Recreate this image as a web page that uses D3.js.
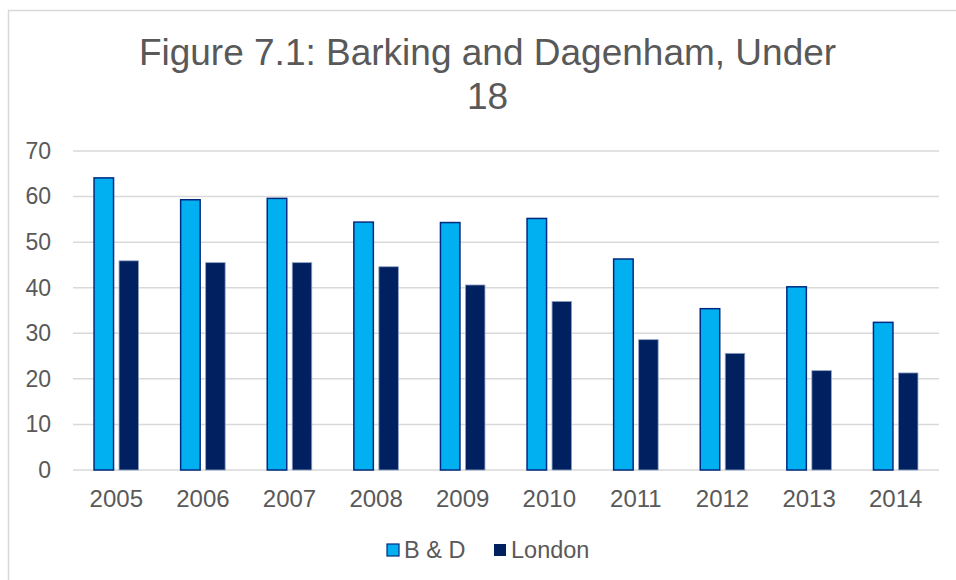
<!DOCTYPE html>
<html>
<head>
<meta charset="utf-8">
<script src="https://cdn.jsdelivr.net/npm/d3@7"></script>
<style>
  body { margin: 0; background: #fff; }
  text { font-family: "Liberation Sans", Arial, sans-serif; fill: #595959; }
</style>
</head>
<body>
<script>
// Figure 7.1 - grouped bar chart

var years = ['2005', '2006', '2007', '2008', '2009', '2010', '2011', '2012', '2013', '2014'];
var seriesNames = ['B & D', 'London'];
var bdValues = [64.1, 59.3, 59.6, 54.4, 54.3, 55.2, 46.3, 35.4, 40.2, 32.4];
var londonValues = [45.9, 45.5, 45.5, 44.6, 40.6, 37.0, 28.6, 25.6, 21.8, 21.3];
var yTicks = [0, 10, 20, 30, 40, 50, 60, 70];

var svgWidth = 956;
var svgHeight = 580;

var margin = { top: 151, right: 17, bottom: 110, left: 73 };
var chartWidth = svgWidth - margin.left - margin.right;
var chartHeight = svgHeight - margin.top - margin.bottom;

var colors = { 'B & D': '#00B0F0', 'London': '#002060' };
var strokes = { 'B & D': '#002A80', 'London': '#8FA3C4' };

var svg = d3.select('body').append('svg')
  .attr('width', svgWidth)
  .attr('height', svgHeight);

// outer chart frame
svg.append('rect')
  .attr('x', 8.5)
  .attr('y', 10.5)
  .attr('width', 980)
  .attr('height', 620)
  .attr('fill', 'none')
  .attr('stroke', '#D9D9D9')
  .attr('stroke-width', 1.5);

// title
var title = svg.append('text')
  .attr('text-anchor', 'middle')
  .attr('font-size', 37);
title.append('tspan').attr('x', 487.5).attr('y', 65).text('Figure 7.1: Barking and Dagenham, Under');
title.append('tspan').attr('x', 487.5).attr('y', 109).text('18');

var chart = svg.append('g')
  .attr('transform', `translate(${margin.left}, ${margin.top})`);

var yScale = d3.scaleLinear()
  .domain([0, 70])
  .range([chartHeight, 0]);

var x0 = d3.scaleBand()
  .domain(years)
  .range([0, chartWidth])
  .paddingInner(0.486)
  .paddingOuter(0.243);

var x1 = d3.scaleBand()
  .domain(seriesNames)
  .range([0, x0.bandwidth()])
  .paddingInner(0.22);

// gridlines
chart.append('g')
  .selectAll('line')
  .data(yTicks)
  .enter()
  .append('line')
  .attr('x1', 0)
  .attr('x2', chartWidth)
  .attr('y1', function(d) { return yScale(d); })
  .attr('y2', function(d) { return yScale(d); })
  .attr('stroke', '#D9D9D9')
  .attr('stroke-width', 1.5);

// y axis labels
var leftAxis = d3.axisLeft(yScale)
  .tickValues(yTicks)
  .tickSize(0)
  .tickPadding(22);

var yAxis = chart.append('g').call(leftAxis);
yAxis.select('.domain').remove();
yAxis.selectAll('text')
  .attr('font-size', 23)
  .attr('font-family', '"Liberation Sans", Arial, sans-serif')
  .attr('fill', '#595959');

// x axis labels
var bottomAxis = d3.axisBottom(x0)
  .tickSize(0)
  .tickPadding(20);

var xAxis = chart.append('g')
  .attr('transform', `translate(0, ${chartHeight})`)
  .call(bottomAxis);
xAxis.select('.domain').remove();
xAxis.selectAll('text')
  .attr('font-size', 24)
  .attr('font-family', '"Liberation Sans", Arial, sans-serif')
  .attr('fill', '#595959');

// bars
var rows = years.map(function(year, i) {
  return { year: year, values: [
    { name: 'B & D', value: bdValues[i] },
    { name: 'London', value: londonValues[i] }
  ] };
});

var groups = chart.selectAll('.year')
  .data(rows)
  .enter()
  .append('g')
  .attr('transform', function(d) { return `translate(${x0(d.year)}, 0)`; });

groups.selectAll('rect')
  .data(function(d) { return d.values; })
  .enter()
  .append('rect')
  .attr('x', function(d) { return x1(d.name); })
  .attr('y', function(d) { return yScale(d.value); })
  .attr('width', x1.bandwidth())
  .attr('height', function(d) { return chartHeight - yScale(d.value); })
  .attr('fill', function(d) { return colors[d.name]; })
  .attr('stroke', function(d) { return strokes[d.name]; })
  .attr('stroke-width', function(d) { return d.name === 'B & D' ? 1.5 : 0.8; });

// legend
var legendItems = [
  { name: 'B & D', x: 387 },
  { name: 'London', x: 494 }
];

var legend = svg.append('g');

legend.selectAll('rect')
  .data(legendItems)
  .enter()
  .append('rect')
  .attr('x', function(d) { return d.x; })
  .attr('y', 544)
  .attr('width', 12)
  .attr('height', 12)
  .attr('fill', function(d) { return colors[d.name]; })
  .attr('stroke', function(d) { return d.name === 'B & D' ? '#002A80' : 'none'; })
  .attr('stroke-width', 1.2);

legend.selectAll('text')
  .data(legendItems)
  .enter()
  .append('text')
  .attr('x', function(d) { return d.x + 17; })
  .attr('y', 558)
  .attr('font-size', 23.5)
  .text(function(d) { return d.name; });
</script>
</body>
</html>
